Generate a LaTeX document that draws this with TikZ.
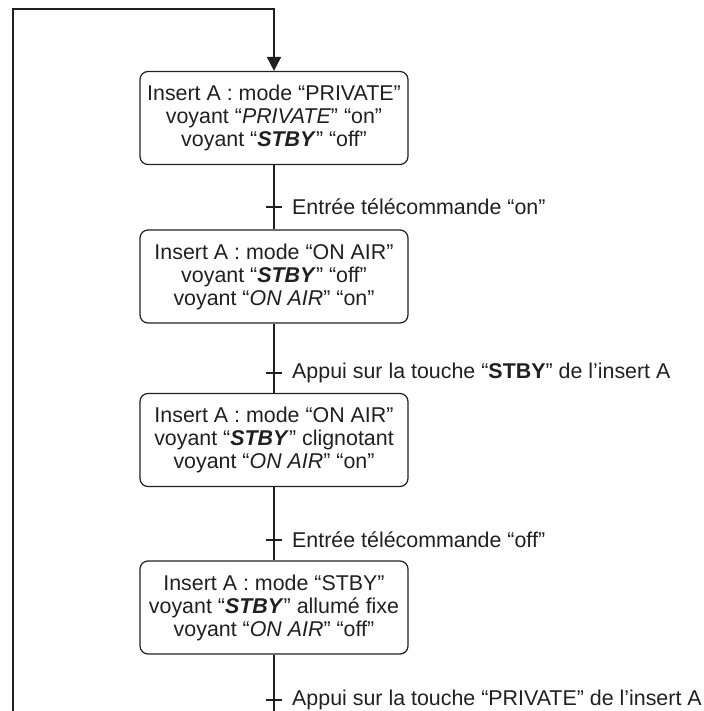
\documentclass[tikz,border=0pt]{standalone}
\usepackage{fontspec}
\setmainfont{Liberation Sans}
\usetikzlibrary{arrows.meta}
\definecolor{ink}{HTML}{231F20}
\begin{document}
\begin{tikzpicture}[x=1pt,y=-1pt,
  every node/.style={text=ink},
  state/.style={draw=ink, line width=1.2pt, rounded corners=8pt, minimum width=268pt,
    minimum height=93pt, align=center, inner sep=0pt,
    font=\fontsize{21.4}{23}\selectfont},
  conn/.style={draw=ink, line width=1.8pt},
  lbl/.style={anchor=west, inner sep=0pt, font=\fontsize{21.4}{23}\selectfont},
  tickmark/.style={draw=ink, line width=1.3pt}]
\useasboundingbox (0,0) rectangle (703,711);
\node[state] (b1) at (274,118) {Insert A : mode “PRIVATE”\\voyant “\textit{PRIVATE}” “on”\\voyant “\textbf{\textit{STBY}}” “off”};
\node[state] (b2) at (274,276.5) {Insert A : mode “ON AIR”\\voyant “\textbf{\textit{STBY}}” “off”\\voyant “\textit{ON AIR}” “on”};
\node[state] (b3) at (274,440) {Insert A : mode “ON AIR”\\voyant “\textbf{\textit{STBY}}” clignotant\\voyant “\textit{ON AIR}” “on”};
\node[state] (b4) at (274,607.5) {Insert A : mode “STBY”\\voyant “\textbf{\textit{STBY}}” allumé fixe\\voyant “\textit{ON AIR}” “off”};
\coordinate (t1) at (274,207);
\coordinate (t2) at (274,373);
\coordinate (t3) at (274,540);
\coordinate (t4) at (274,700);
\coordinate (bm) at (274,711);
\coordinate (bl) at (13,711);
\coordinate (tr) at (274,9);
\draw[conn] (b1.south -| t1) -- (b2.north -| t1);
\draw[conn] (b2.south -| t1) -- (b3.north -| t1);
\draw[conn] (b3.south -| t1) -- (b4.north -| t1);
\draw[conn] (b4.south -| t1) -- (bm);
\draw[conn, -{Triangle[length=14pt,width=14pt]}] (bl) |- (tr) -- (b1.north -| tr);
\foreach \t in {t1,t2,t3,t4} \draw[tickmark] ([xshift=-8pt]\t) -- ([xshift=8pt]\t);
\node[lbl] (l1) at ([xshift=18pt]t1) {Entrée télécommande “on”};
\node[lbl] (l2) at ([xshift=18pt]t2) {Appui sur la touche “\textbf{STBY}” de l’insert A};
\node[lbl] (l3) at ([xshift=18pt]t3) {Entrée télécommande “off”};
\node[lbl] (l4) at ([xshift=18pt]t4) {Appui sur la touche “PRIVATE” de l’insert A};
\end{tikzpicture}
\end{document}
